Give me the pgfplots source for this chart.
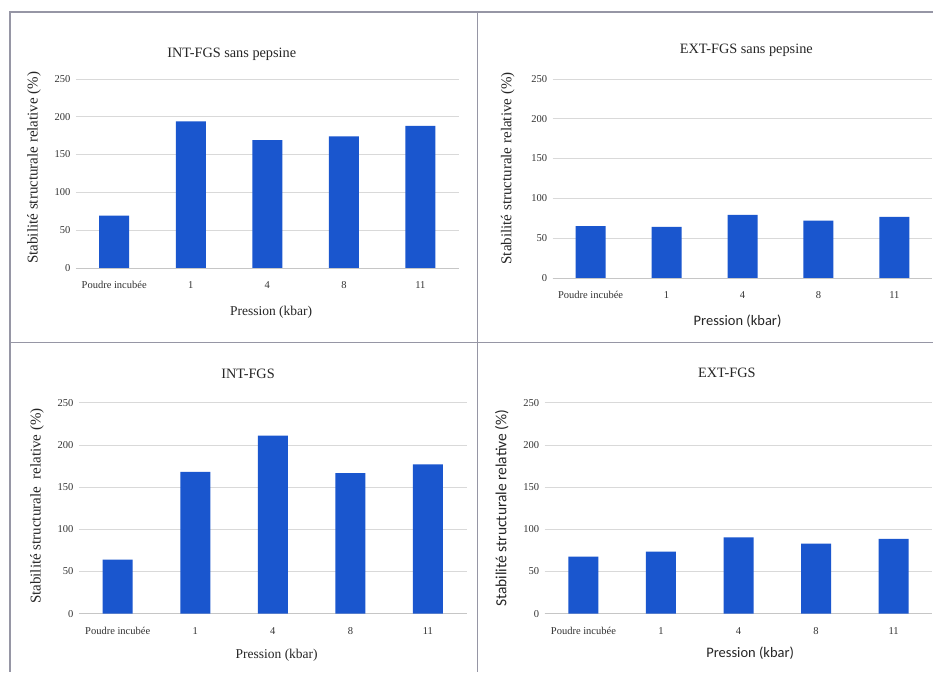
\documentclass[border=0pt]{standalone}
\usepackage{pgfplots}
\pgfplotsset{compat=1.18}
\usepackage{fontspec}
\setmainfont{Liberation Serif}
\newfontfamily\calib{Carlito}
\definecolor{barblue}{RGB}{26,86,206}
\definecolor{framegray}{RGB}{150,150,165}
\pgfplotsset{
  panel/.style={
    scale only axis, anchor=south west,
    ybar, bar width=30pt,
    ymin=0, ymax=250, ytick={0,50,100,150,200,250},
    xmin=-0.5, xmax=4.5,
    xtick={0,1,2,3,4},
    xticklabels={Poudre incubée,1,4,8,11},
    axis x line*=bottom, axis y line*=left,
    x axis line style={draw=gray!45},
    y axis line style={draw=none},
    major tick length=0pt,
    ymajorgrids, grid style={gray!30, line width=0.6pt},
    tick label style={font=\fontsize{10.5}{11}\selectfont, text=black!80},
    /pgf/number format/assume math mode=true,
    xticklabel style={yshift=-10pt},
    yticklabel style={xshift=-2pt},
    label style={text=black!85},
    title style={font=\fontsize{14.3}{15}\selectfont, anchor=center, text=black!85},
  }
}
\begin{document}
\begin{tikzpicture}[x=1pt,y=1pt]
\path[fill=white] (0,0) rectangle (934,672);
\draw[framegray, line width=1.2pt] (10,0) -- (10,660) -- (934,660);
\draw[framegray, line width=1.2pt] (478,0) -- (478,660);
\draw[framegray, line width=1.2pt] (10,329) -- (934,329);

% Panel 1
\begin{axis}[panel, at={(76pt,404pt)}, width=383pt, height=189pt,
  title={INT-FGS sans pepsine},
  title style={at={(axis description cs:0.407,1)}, yshift=19pt},
  xlabel={Pression (kbar)},
  xlabel style={at={(axis description cs:0.51,0)}, anchor=center, yshift=-44pt, font=\fontsize{13.5}{14}\selectfont},
  ylabel={Stabilité structurale relative (\%)},
  ylabel style={at={(axis description cs:0,0.53)}, anchor=center, yshift=42pt, font=\fontsize{15}{16}\selectfont},
]
\addplot[fill=barblue, draw=none] coordinates {(0,69) (1,194) (2,169) (3,174) (4,188)};
\end{axis}

% Panel 2
\begin{axis}[panel, at={(553pt,394pt)}, width=380pt, height=199pt,
  title={EXT-FGS sans pepsine},
  title style={at={(axis description cs:0.51,1)}, yshift=23pt},
  xlabel={\calib Pression (kbar)},
  xlabel style={at={(axis description cs:0.487,0)}, anchor=center, yshift=-43pt, font=\fontsize{14.5}{15}\selectfont},
  ylabel={Stabilité structurale relative (\%)},
  ylabel style={at={(axis description cs:0,0.55)}, anchor=center, yshift=45pt, font=\fontsize{15}{16}\selectfont},
]
\addplot[fill=barblue, draw=none] coordinates {(0,65) (1,64) (2,79) (3,72) (4,76.5)};
\end{axis}

% Panel 3
\begin{axis}[panel, at={(79pt,58pt)}, width=388pt, height=211pt,
  title={INT-FGS},
  title style={at={(axis description cs:0.436,1)}, yshift=23pt},
  xlabel={Pression (kbar)},
  xlabel style={at={(axis description cs:0.51,0)}, anchor=center, yshift=-42pt, font=\fontsize{13.5}{14}\selectfont},
  ylabel={Stabilité structurale\ \ relative (\%)},
  ylabel style={at={(axis description cs:0,0.51)}, anchor=center, yshift=42pt, font=\fontsize{15}{16}\selectfont},
]
\addplot[fill=barblue, draw=none] coordinates {(0,64) (1,168) (2,211) (3,166.5) (4,177)};
\end{axis}

% Panel 4
\begin{axis}[panel, at={(545pt,58pt)}, width=388pt, height=211pt,
  title={EXT-FGS},
  title style={at={(axis description cs:0.47,1)}, yshift=24pt},
  xlabel={\calib Pression (kbar)},
  xlabel style={at={(axis description cs:0.53,0)}, anchor=center, yshift=-40pt, font=\fontsize{14.5}{15}\selectfont},
  ylabel={\calib Stabilité structurale relative (\%)},
  ylabel style={at={(axis description cs:0,0.5)}, anchor=center, yshift=43pt, font=\fontsize{15.5}{16}\selectfont},
]
\addplot[fill=barblue, draw=none] coordinates {(0,67.5) (1,73.5) (2,90.5) (3,83) (4,88.5)};
\end{axis}
\end{tikzpicture}
\end{document}
